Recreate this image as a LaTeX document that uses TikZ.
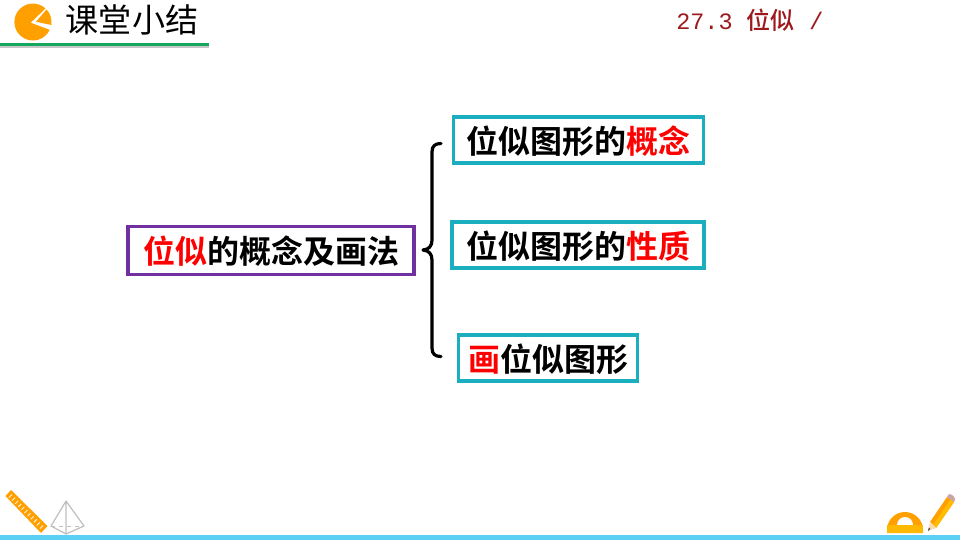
\documentclass[tikz,border=0pt]{standalone}
\usepackage{fontspec}
\setmainfont{Liberation Serif}
\newfontfamily\cjk{Noto Sans CJK SC}
\newfontfamily\cjkb{Noto Sans CJK SC Bold}
\newfontfamily\cjkm{Noto Sans CJK SC Medium}
\newfontfamily\latn{Liberation Mono}
\usetikzlibrary{calc}
\definecolor{teal1}{HTML}{1AAEBE}
\definecolor{purp}{HTML}{7030A0}
\definecolor{orng}{HTML}{FFA000}
\definecolor{grn}{HTML}{14A85E}
\definecolor{sky}{HTML}{5CCFF5}
\definecolor{dred}{HTML}{9C1A1C}
\tikzset{
  x=0.75pt,y=-0.75pt,
  bx/.style={draw=teal1,line width=2.3pt,inner sep=0pt,text height=22.2pt,text depth=2.6pt,font=\cjkb\fontsize{24}{24}\selectfont,anchor=center},
  lbx/.style={bx,draw=purp},
  brc/.style={draw=black,line width=2.4pt,line cap=round,line join=round},
  ic/.style={draw=black!25!white,line width=0.9pt}
}
\newcommand{\rd}[1]{\textcolor{red}{#1}}
\begin{document}
\begin{tikzpicture}
\useasboundingbox[fill=white] (0,0) rectangle (960,540);
% header
\fill[black!22] (0,46) rectangle (209,48);
\fill[grn] (0,42.7) rectangle (209,46);
\fill[orng] (30.7,22.7) -- (45.5,8.5) arc[start angle=-47,end angle=-335,radius=18.5] -- cycle;
\fill[orng] (36,21.7) -- (46.5,9.5) .. controls (50.5,13) and (52,20) .. (51.5,25) -- cycle;
\node[font=\cjk\fontsize{24.8}{25}\selectfont] (title) at (132,19.5) {课堂小结};
\node[font=\cjkm\fontsize{18}{18}\selectfont,text=dred,anchor=west,inner sep=0pt] (sec) at (676,20) {{\latn\fontsize{17.6}{18}\selectfont 27.3 }位似{\latn{} /}};
% boxes
\node[lbx,minimum width=214.5pt,minimum height=35.5pt] (main) at (271,250.5) {\rd{位似}的概念及画法};
\node[bx,minimum width=187pt,minimum height=34.5pt] (a) at (578.5,140) {位似图形的\rd{概念}};
\node[bx,minimum width=189pt,minimum height=34.5pt] (b) at (578,245) {位似图形的\rd{性质}};
\node[bx,minimum width=134.7pt,minimum height=34.5pt] (c) at (548,358) {\rd{画}位似图形};
% brace
\draw[brc] (441,143.5) .. controls (435,143.5) and (432,146) .. (432,152) -- (432,240)
  .. controls (432,246) and (429,249.5) .. (423,250)
  .. controls (429,250.5) and (432,254) .. (432,260) -- (432,348)
  .. controls (432,354) and (435,356.5) .. (441,356.5);
% ruler
\fill[orng] (11,490) -- (47.5,526) -- (41,533) -- (5.5,496) -- cycle;
\foreach \t in {0,1,...,10}{
  \draw[white!85!orng,line width=0.7pt] ($(9,497.5)+(\t*3.1,\t*3.1)$) -- ++(3,-3);
}
% pyramid
\draw[ic,line join=round] (66,501) -- (51,526) -- (66,534) -- (84,526) -- cycle (66,501) -- (66,534);
\draw[ic,dashed,line width=0.6pt] (51,526) -- (84,526);
% protractor
\fill[orng] (887,533) -- (887,530) arc[start angle=180,end angle=360,radius=18] -- (923,533) -- cycle;
\fill[white] (897,525) arc[start angle=180,end angle=360,radius=8] -- cycle;
\fill[orng!75!yellow] (887,525) rectangle (923,533);
% pencil
\fill[orng] (930,522) -- (947,497) -- (954,502) -- (936,528) -- cycle;
\fill[orng!70!yellow] (933,525) -- (950.5,499.5) -- (954,502) -- (936,528) -- cycle;
\fill[orange!30!white] (930,522) -- (936,528) -- (928,531) -- cycle;
\fill[black!70] (928.8,527.5) -- (930.4,529) -- (928,531) -- cycle;
\fill[red!40!black!35!white] (947,497) -- (948.5,494.5) .. controls (950,493) and (955,496) .. (955,499.5) -- (954,502) -- cycle;
% bottom bar
\fill[sky] (0,535) rectangle (960,540);
\end{tikzpicture}
\end{document}
